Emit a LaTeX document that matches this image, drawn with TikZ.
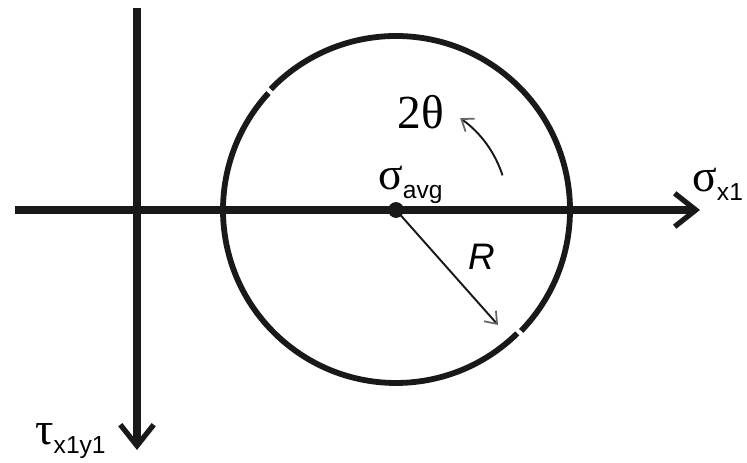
\documentclass[tikz,border=0pt]{standalone}
\usepackage{fontspec}
\setmainfont{Liberation Serif}
\setsansfont{Liberation Sans}
\usetikzlibrary{arrows.meta}
\newcommand{\lowsub}[1]{\raisebox{-5pt}{\sffamily\fontsize{14}{14}\selectfont #1}}

\begin{document}
\begin{tikzpicture}[x=0.02cm,y=0.02cm,
  axis/.style={line width=4pt,draw=black!90,line cap=butt,
    -{Straight Barb[length=12pt,width=19pt,line width=3pt]}},
  rim/.style={line width=3.3pt,draw=black!90},
  thinarr/.style={line width=1.1pt,draw=black!90,
    -{Straight Barb[length=6pt,width=9pt,line width=1pt,color=black!60]}},
  lbl/.style={inner sep=0pt,anchor=base west,font=\fontsize{26}{26}\selectfont}]
\useasboundingbox (0,0) rectangle (747,463);
% axes
\coordinate (xl) at (15,253);
\coordinate (xr) at (700,253);
\coordinate (yt) at (137,455);
\coordinate (yb) at (137,13);
\draw[axis] (xl) -- (xr);
\draw[axis] (yt) -- (yb);
% Mohr circle, drawn in two pieces
\node[circle,fill=black!90,inner sep=0pt,minimum size=9pt] (avg) at (396,253) {};
\draw[rim] (avg.center) ++(-44:174) arc[start angle=-44,end angle=136,radius=174];
\draw[rim] (avg.center) ++(137.5:173) arc[start angle=137.5,end angle=314.5,radius=173];
% radius
\coordinate (rtip) at (498,138);
\draw[thinarr] (avg.center) -- (rtip);
\node[font=\fontsize{21}{21}\selectfont\sffamily\itshape] (R) at (482,206) {R};
% rotation 2theta
\draw[thinarr] (avg.center) ++(18:112) arc[start angle=18,end angle=55,radius=112];
\node[font=\fontsize{27}{27}\selectfont] (twotheta) at (421,351) {2θ};
% labels
\node[lbl] (sigavg) at (378,273) {σ\lowsub{avg}};
\node[lbl] (tau) at (35,18) {τ\lowsub{x1y1}};
\node[lbl] (sigx) at (692,271) {σ\lowsub{x1}};
\end{tikzpicture}
\end{document}
